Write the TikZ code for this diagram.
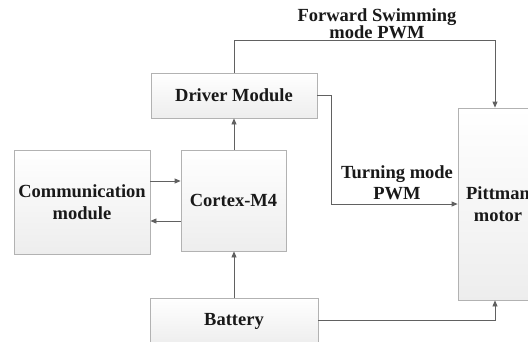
\documentclass[tikz,border=0pt]{standalone}
\usepackage{fontspec}
\setmainfont{Liberation Serif}
\usetikzlibrary{arrows.meta,shadows}
\begin{document}
\begin{tikzpicture}[x=1pt,y=-1pt,
  txt/.style={font=\fontsize{18.5}{22}\selectfont\bfseries, align=center, text=black!90},
  box/.style={txt, draw=gray!60, line width=0.8pt, top color=white, bottom color=gray!14,
    drop shadow={shadow xshift=1pt,shadow yshift=-1pt,opacity=0.25}, inner sep=0pt},
  conn/.style={draw=black!62, line width=0.8pt},
  arr/.style={conn, -{Triangle[length=6pt,width=5pt]}},
  lbl/.style={txt, inner sep=0pt}]
\useasboundingbox (0,0) rectangle (528,341);
\fill[white] (0,0) rectangle (528,341);
\clip (0,0) rectangle (528,341);

\node[box, minimum width=166pt, minimum height=45pt] (drv) at (234,95.5) {Driver Module};
\node[box, minimum width=136pt, minimum height=104pt] (com) at (82,202) {Communication\\module};
\node[box, minimum width=105pt, minimum height=101pt] (ctx) at (233.5,200.5) {Cortex-M4};
\node[box, minimum width=168pt, minimum height=47pt] (bat) at (234,321.5) {Battery};
\node[box, minimum width=80pt, minimum height=192pt] (pit) at (498,204) {Pittman\\motor};

\node[lbl, font=\fontsize{18.5}{17}\selectfont\bfseries] (fwl) at (377,23.5) {Forward Swimming\\mode PWM};
\node[lbl, font=\fontsize{18.5}{21}\selectfont\bfseries] (tml) at (397,183) {Turning mode\\PWM};

\draw[arr] (drv.north) -- ++(0,-32) -| ([xshift=-3pt]pit.north);
\draw[arr] (drv.east) -- ++(14,0) |- (pit.west);
\draw[arr] (ctx.north -| drv.south) -- (drv.south);
\draw[arr] (bat.north) -- (bat.north |- ctx.south);
\draw[arr] ([yshift=21pt]com.east) -- ([yshift=21pt]com.east -| ctx.west);
\draw[arr] ([yshift=-20.5pt]ctx.west) -- ([yshift=-20.5pt]ctx.west -| com.east);
\draw[arr] ([yshift=1.5pt]bat.east) -| ([xshift=-3pt]pit.south);
\end{tikzpicture}
\end{document}
